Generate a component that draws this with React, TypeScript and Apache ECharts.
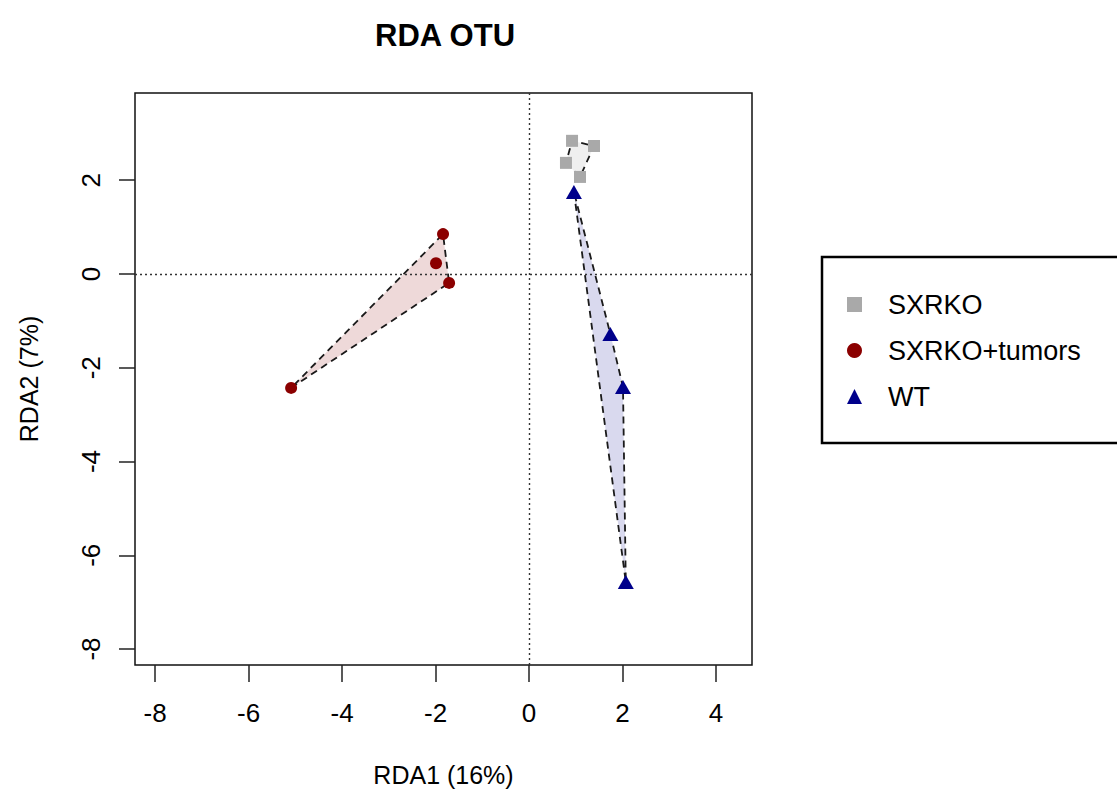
import React, { useEffect, useRef } from "react";
import * as echarts from "echarts";

const groupNames = ["SXRKO", "SXRKO+tumors", "WT"];
const sxrkoX = [0.92, 1.39, 1.09, 0.79];
const sxrkoY = [2.84, 2.73, 2.07, 2.37];
const tumorX = [-1.84, -1.99, -1.71, -5.09];
const tumorY = [0.85, 0.23, -0.19, -2.43];
const wtX = [0.96, 1.74, 2.01, 2.07];
const wtY = [1.75, -1.28, -2.41, -6.57];
const xTicks = [-8, -6, -4, -2, 0, 2, 4];
const yTicks = [-8, -6, -4, -2, 0, 2];

const colors = ["#a9a9a9", "#8b0000", "#00008b"];
const fills = ["rgba(169,169,169,0.18)", "rgba(139,0,0,0.15)", "rgba(0,0,139,0.15)"];
const symbols = ["rect", "circle", "triangle"];
const symbolSizes: any[] = [12, 12, [16, 14]];

function hull(pts: number[][]): number[][] {
  const p = pts.slice().sort((a, b) => a[0] - b[0] || a[1] - b[1]);
  const cross = (o: number[], a: number[], b: number[]) =>
    (a[0] - o[0]) * (b[1] - o[1]) - (a[1] - o[1]) * (b[0] - o[0]);
  const lower: number[][] = [];
  for (const q of p) {
    while (lower.length >= 2 && cross(lower[lower.length - 2], lower[lower.length - 1], q) <= 0) lower.pop();
    lower.push(q);
  }
  const upper: number[][] = [];
  for (let i = p.length - 1; i >= 0; i--) {
    const q = p[i];
    while (upper.length >= 2 && cross(upper[upper.length - 2], upper[upper.length - 1], q) <= 0) upper.pop();
    upper.push(q);
  }
  upper.pop();
  lower.pop();
  return lower.concat(upper);
}

export default function App() {
  const ref = useRef<HTMLDivElement>(null);
  useEffect(() => {
    if (!ref.current) return;
    const chart = echarts.init(ref.current, null, { renderer: "svg" });
    const groups = [
      sxrkoX.map((x, i) => [x, sxrkoY[i]]),
      tumorX.map((x, i) => [x, tumorY[i]]),
      wtX.map((x, i) => [x, wtY[i]]),
    ];
    const font = "'Liberation Sans', Arial, Helvetica, sans-serif";

    const hullSeries = groups.map((pts, gi) => ({
      type: "custom",
      name: groupNames[gi] + " hull",
      silent: true,
      data: pts,
      encode: { x: 0, y: 1 },
      z: 1,
      renderItem: (params: any, api: any) => {
        if (params.dataIndex !== 0) return null;
        const h = hull(pts).map((q) => api.coord(q));
        return {
          type: "polygon",
          shape: { points: h },
          style: {
            fill: fills[gi],
            stroke: "#1a1a1a",
            lineWidth: 1.8,
            lineDash: [7, 5],
          },
        };
      },
    }));

    const pointSeries = groups.map((pts, gi) => ({
      type: "scatter",
      name: groupNames[gi],
      data: pts,
      symbol: symbols[gi],
      symbolSize: symbolSizes[gi],
      itemStyle: { color: colors[gi], opacity: 1 },
      z: 5,
    }));

    chart.setOption({
      animation: false,
      backgroundColor: "#ffffff",
      textStyle: { fontFamily: font },
      title: {
        text: "RDA OTU",
        left: 370,
        top: 15,
        textStyle: { fontFamily: font, fontSize: 31, fontWeight: "bold", color: "#000" },
      },
      grid: {
        left: 135,
        top: 93,
        width: 617,
        height: 572,
        show: true,
        borderColor: "#111",
        borderWidth: 1.5,
        backgroundColor: "transparent",
      },
      xAxis: {
        type: "value",
        min: -8.43,
        max: 4.77,
        name: "RDA1 (16%)",
        nameLocation: "middle",
        nameGap: 97,
        nameTextStyle: { fontFamily: font, fontSize: 25, color: "#000" },
        axisLine: { show: false, onZero: false },
        axisTick: { show: true, length: 17, customValues: xTicks, lineStyle: { color: "#222", width: 1.5 } },
        axisLabel: { customValues: xTicks, margin: 35, fontSize: 26, color: "#000", fontFamily: font },
        splitLine: { show: false },
      },
      yAxis: {
        type: "value",
        min: -8.34,
        max: 3.86,
        name: "RDA2 (7%)",
        nameLocation: "middle",
        nameGap: 94,
        nameTextStyle: { fontFamily: font, fontSize: 25, color: "#000" },
        axisLine: { show: false, onZero: false },
        axisTick: { show: true, length: 16, customValues: yTicks, lineStyle: { color: "#222", width: 1.5 } },
        axisLabel: { customValues: yTicks, margin: 31, rotate: 90, fontSize: 26, color: "#000", fontFamily: font },
        splitLine: { show: false },
      },
      legend: {
        orient: "vertical",
        left: 847,
        top: 291,
        padding: 0,
        itemGap: 19,
        itemWidth: 15,
        itemHeight: 15,
        data: groupNames.map((n, i) => ({ name: n, icon: symbols[i] })),
        textStyle: { fontFamily: font, fontSize: 27, color: "#000", padding: [0, 0, 0, 21] },
      },
      graphic: [
        {
          type: "rect",
          shape: { x: 822, y: 257, width: 320, height: 186 },
          style: { fill: "none", stroke: "#000", lineWidth: 2.5 },
          silent: true,
        },
      ],
      series: [
        ...hullSeries,
        {
          type: "scatter",
          name: "refLines",
          data: [],
          z: 3,
          markLine: {
            silent: true,
            symbol: "none",
            label: { show: false },
            lineStyle: { color: "#333", type: [2, 3], width: 1.4 },
            data: [{ xAxis: 0 }, { yAxis: 0 }],
          },
        },
        ...pointSeries,
      ],
    });
    return () => chart.dispose();
  }, []);
  return (
    <div
      ref={ref}
      style={{ position: "absolute", left: 0, top: 0, width: 1117, height: 794 }}
    />
  );
}
